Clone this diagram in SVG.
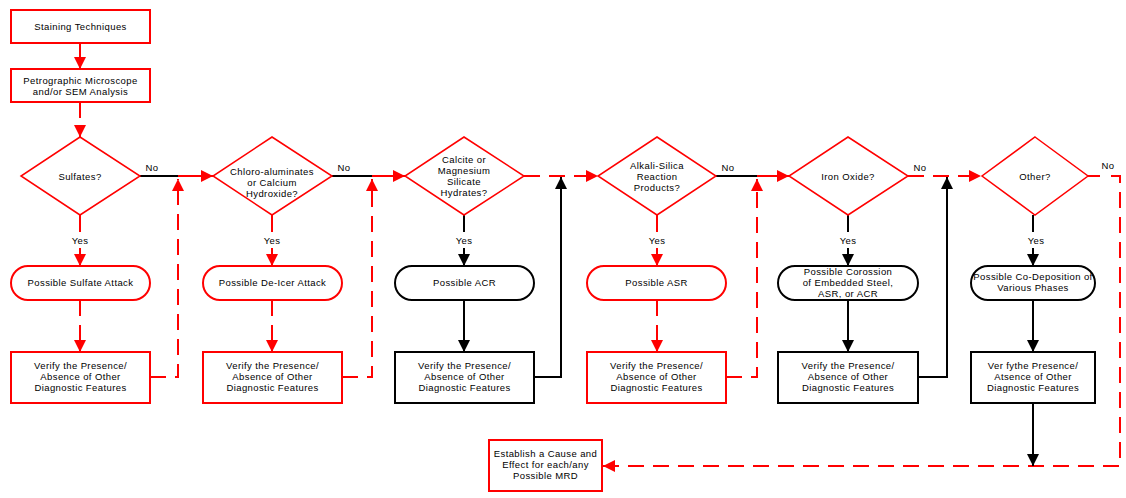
<svg xmlns="http://www.w3.org/2000/svg" width="1126" height="498" viewBox="0 0 1126 498">
<style>
text{font-family:"Liberation Sans",Arial,sans-serif;font-size:9.5px;fill:#000;text-anchor:middle;letter-spacing:0.4px}
.rb{fill:#fff;stroke:#f00;stroke-width:2}
.bb{fill:#fff;stroke:#000;stroke-width:2}
.dm{fill:#fff;stroke:#f00;stroke-width:1.5}
.r{fill:none;stroke:#f00;stroke-width:2}
.k{fill:none;stroke:#000;stroke-width:2}
.d{stroke-dasharray:16 9}
</style>
<defs>
<marker id="ar" markerUnits="userSpaceOnUse" markerWidth="12" markerHeight="12" refX="12" refY="6" orient="auto"><path d="M0,0L12,6L0,12z" fill="#f00"/></marker>
<marker id="ak" markerUnits="userSpaceOnUse" markerWidth="12" markerHeight="12" refX="12" refY="6" orient="auto"><path d="M0,0L12,6L0,12z" fill="#000"/></marker>
</defs>
<g id="connectors">
<path class="r" d="M80,43V69" marker-end="url(#ar)"/>
<path class="r d" d="M80,102V137" marker-end="url(#ar)"/>
<!-- yes branches -->
<path class="r" d="M80,215V232"/><path class="r" d="M80,248V266" marker-end="url(#ar)"/>
<path class="r d" d="M80,300V352" marker-end="url(#ar)"/>
<path class="r" d="M272,215V232"/><path class="r" d="M272,248V266" marker-end="url(#ar)"/>
<path class="r d" d="M272,300V352" marker-end="url(#ar)"/>
<path class="k" d="M464,215V232"/><path class="k" d="M464,248V266" marker-end="url(#ak)"/>
<path class="k" d="M464,300V352" marker-end="url(#ak)"/>
<path class="r" d="M657,215V232"/><path class="r" d="M657,248V266" marker-end="url(#ar)"/>
<path class="r d" d="M657,300V352" marker-end="url(#ar)"/>
<path class="k" d="M848,215V232"/><path class="k" d="M848,248V266" marker-end="url(#ak)"/>
<path class="k" d="M848,300V352" marker-end="url(#ak)"/>
<path class="k" d="M1033,215V232"/><path class="k" d="M1033,248V266" marker-end="url(#ak)"/>
<path class="k" d="M1033,300V352" marker-end="url(#ak)"/>
<!-- no branches -->
<path class="k" d="M140,176H178"/><path class="r" d="M178,176H213" marker-end="url(#ar)"/>
<path class="k" d="M332,176H372"/><path class="r" d="M372,176H405" marker-end="url(#ar)"/>
<path class="r d" d="M524,176H598" marker-end="url(#ar)"/>
<path class="k" d="M716,176H757"/><path class="r" d="M757,176H789" marker-end="url(#ar)"/>
<path class="r d" d="M908,176H981" marker-end="url(#ar)"/>
<path class="r" d="M1088,176H1100"/>
<path class="r d" d="M1111,176H1120V466H603" marker-end="url(#ar)"/>
<!-- feedback -->
<path class="r d" d="M150,377H178V179" marker-end="url(#ar)"/>
<path class="r d" d="M342,377H372V179" marker-end="url(#ar)"/>
<path class="k" d="M534,377H561V177" marker-end="url(#ak)"/>
<path class="r d" d="M726,377H757V179" marker-end="url(#ar)"/>
<path class="k" d="M918,377H947V177" marker-end="url(#ak)"/>
<path class="k" d="M1033,403V466" marker-end="url(#ak)"/>
<text x="152" y="171">No</text>
<text x="344" y="171">No</text>
<text x="728" y="171">No</text>
<text x="920" y="171">No</text>
<text x="1108" y="169">No</text>
<text x="80" y="244">Yes</text>
<text x="272" y="244">Yes</text>
<text x="464" y="244">Yes</text>
<text x="657" y="244">Yes</text>
<text x="848" y="244">Yes</text>
<text x="1036" y="244">Yes</text>
</g>
<g id="staining"><rect class="rb" x="11" y="10" width="139" height="33"/><text x="80.5" y="30">Staining Techniques</text></g>
<g id="petro"><rect class="rb" x="11" y="69" width="139" height="33"/><text x="80.5" y="84">Petrographic Microscope</text><text x="80.5" y="95">and/or SEM Analysis</text></g>
<g id="d1"><polygon class="dm" points="80,137 140,176 80,215 21,176"/><text x="80" y="180">Sulfates?</text></g>
<g id="d2"><polygon class="dm" points="272,137 332,176 272,215 213,176"/><text x="272" y="175">Chloro-aluminates</text><text x="272" y="186">or Calcium</text><text x="272" y="197">Hydroxide?</text></g>
<g id="d3"><polygon class="dm" points="464,137 524,176 464,215 405,176"/><text x="464" y="163">Calcite or</text><text x="464" y="174">Magnesium</text><text x="464" y="185">Silicate</text><text x="464" y="196">Hydrates?</text></g>
<g id="d4"><polygon class="dm" points="657,137 716,176 657,215 598,176"/><text x="657" y="169">Alkali-Silica</text><text x="657" y="180">Reaction</text><text x="657" y="191">Products?</text></g>
<g id="d5"><polygon class="dm" points="848,137 908,176 848,215 789,176"/><text x="848" y="180">Iron Oxide?</text></g>
<g id="d6"><polygon class="dm" points="1035,137 1088,176 1035,215 982,176"/><text x="1035" y="180">Other?</text></g>
<g id="p1"><rect class="rb" x="11" y="266" width="139" height="34" rx="17"/><text x="80.5" y="286">Possible Sulfate Attack</text></g>
<g id="p2"><rect class="rb" x="203" y="266" width="139" height="34" rx="17"/><text x="272.5" y="286">Possible De-Icer Attack</text></g>
<g id="p3"><rect class="bb" x="395" y="266" width="139" height="34" rx="17"/><text x="464.5" y="286">Possible ACR</text></g>
<g id="p4"><rect class="rb" x="587" y="266" width="139" height="34" rx="17"/><text x="656.5" y="286">Possible ASR</text></g>
<g id="p5"><rect class="bb" x="778" y="266" width="140" height="34" rx="17"/><text x="848" y="275">Possible Corossion</text><text x="848" y="286">of Embedded Steel,</text><text x="848" y="297">ASR, or ACR</text></g>
<g id="p6"><rect class="bb" x="971" y="266" width="124" height="34" rx="17"/><text x="1033" y="280">Possible Co-Deposition of</text><text x="1033" y="291">Various Phases</text></g>
<g id="v1"><rect class="rb" x="11" y="352" width="139" height="51"/><text x="80.5" y="369">Verify the Presence/</text><text x="80.5" y="380">Absence of Other</text><text x="80.5" y="391">Diagnostic Features</text></g>
<g id="v2"><rect class="rb" x="203" y="352" width="139" height="51"/><text x="272.5" y="369">Verify the Presence/</text><text x="272.5" y="380">Absence of Other</text><text x="272.5" y="391">Diagnostic Features</text></g>
<g id="v3"><rect class="bb" x="395" y="352" width="139" height="51"/><text x="464.5" y="369">Verify the Presence/</text><text x="464.5" y="380">Absence of Other</text><text x="464.5" y="391">Diagnostic Features</text></g>
<g id="v4"><rect class="rb" x="587" y="352" width="139" height="51"/><text x="656.5" y="369">Verify the Presence/</text><text x="656.5" y="380">Absence of Other</text><text x="656.5" y="391">Diagnostic Features</text></g>
<g id="v5"><rect class="bb" x="778" y="352" width="140" height="51"/><text x="848" y="369">Verify the Presence/</text><text x="848" y="380">Absence of Other</text><text x="848" y="391">Diagnostic Features</text></g>
<g id="v6"><rect class="bb" x="971" y="352" width="124" height="51"/><text x="1033" y="369">Ver fythe Presence/</text><text x="1033" y="380">Atsence of Other</text><text x="1033" y="391">Diagnostic Features</text></g>
<g id="final"><rect class="rb" x="489" y="440" width="113" height="51"/><text x="545.5" y="457">Establish a Cause and</text><text x="545.5" y="468">Effect for each/any</text><text x="545.5" y="479">Possible MRD</text></g>
</svg>
